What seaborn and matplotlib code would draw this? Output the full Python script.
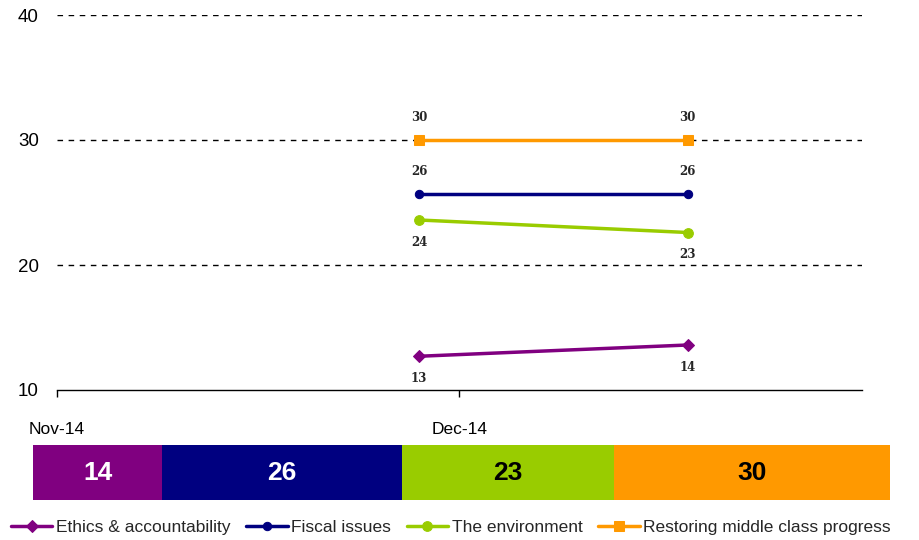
import numpy as np
import pandas as pd
import seaborn as sns
import matplotlib.pyplot as plt
import matplotlib.dates as mdates

dates = pd.to_datetime(["2014-11-28", "2014-12-18"])
series = ["Ethics & accountability", "Fiscal issues", "The environment",
          "Restoring middle class progress"]
ethics = [12.7, 13.6]
fiscal = [25.7, 25.7]
environment = [23.6, 22.6]
restoring = [30.0, 30.0]
latest = [14, 26, 23, 30]

colors = ["#800080", "#000080", "#99CC00", "#FF9900"]
markers = ["D", "o", "o", "s"]
msizes = [6, 6, 7, 7]
label_side = [-1, 1, -1, 1]

sns.set_style("white")
plt.rcParams["font.family"] = ["Liberation Sans", "DejaVu Sans"]

fig = plt.figure(figsize=(9.2, 5.4), dpi=100)
ax = fig.add_axes([57 / 920, 150 / 540, 805 / 920, 375 / 540])

df = pd.DataFrame({
    "date": np.tile(dates, 4),
    "value": ethics + fiscal + environment + restoring,
    "series": np.repeat(series, 2),
})

for name, c, m, ms, side in zip(series, colors, markers, msizes, label_side):
    d = df[df["series"] == name]
    sns.lineplot(data=d, x="date", y="value", color=c, marker=m, markersize=ms,
                 markeredgecolor=c, linewidth=2.5, ax=ax, label=name, legend=False)
    for x, y in zip(d["date"], d["value"]):
        ax.annotate(f"{y:.0f}", (x, y), xytext=(0, 16 * side), textcoords="offset points",
                    ha="center", va="center", fontsize=8.5, fontweight="bold",
                    family="DejaVu Serif")

ax.set_xlim(pd.Timestamp("2014-11-01"), pd.Timestamp("2014-12-31"))
ax.set_ylim(10, 40)
ax.set_yticks([10, 20, 30, 40])
for yv in [20, 30, 40]:
    ax.axhline(yv, color="black", linestyle=(0, (4, 4)), linewidth=1, zorder=0)
ax.set_xticks([pd.Timestamp("2014-11-01"), pd.Timestamp("2014-12-01")])
ax.xaxis.set_major_formatter(mdates.DateFormatter("%b-%y"))
ax.tick_params(axis="x", bottom=True, direction="out", length=5, width=1, pad=18,
               labelsize=12.5, colors="black")
ax.tick_params(axis="y", length=0, pad=13, labelsize=13.5, colors="black")
ax.set_xlabel("")
ax.set_ylabel("")
for s in ["top", "right", "left"]:
    ax.spines[s].set_visible(False)
ax.spines["bottom"].set_color("black")
ax.spines["bottom"].set_linewidth(1)

# stacked bar of latest values
bax = fig.add_axes([33 / 920, 40 / 540, 857 / 920, 55 / 540])
left = 0
for v, c, name in zip(latest, colors, series):
    sns.barplot(x=[v], y=[0], orient="h", color=c, left=left, width=1,
                ax=bax, saturation=1, linewidth=0)
    tc = "white" if c in ["#800080", "#000080"] else "black"
    bax.text(left + v / 2, 0, str(v), ha="center", va="center", fontsize=19,
             fontweight="bold", color=tc)
    left += v
bax.set_xlim(0, sum(latest))
bax.set_ylim(0.5, -0.5)
bax.axis("off")

handles, labels = ax.get_legend_handles_labels()
fig.legend(handles, labels, loc="lower center", bbox_to_anchor=(0.49, -0.02), ncol=4,
           frameon=False, fontsize=12.5, handlelength=2.4, handletextpad=0.2,
           columnspacing=0.9)

plt.savefig("out.png", dpi=100)
plt.close()
